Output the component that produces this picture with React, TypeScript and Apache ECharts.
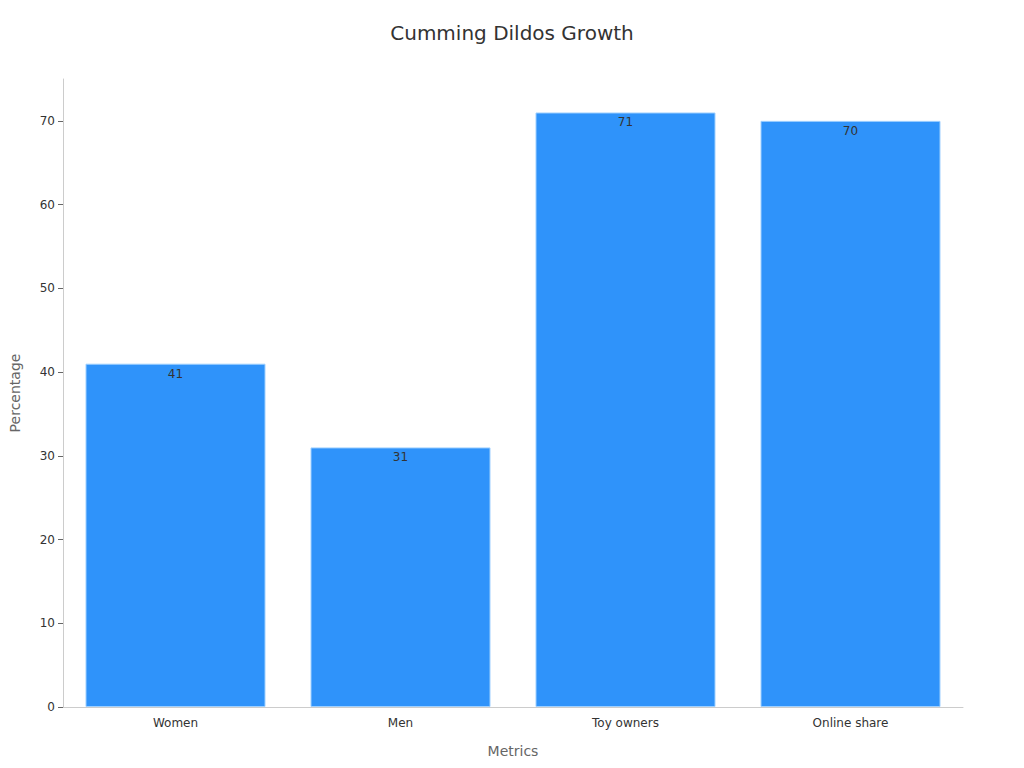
import React, { useEffect, useRef } from "react";
import * as echarts from "echarts";

const categories = ["Women", "Men", "Toy owners", "Online share"];
const values = [41, 31, 71, 70];
const titleText = "Cumming Dildos Growth";
const yName = "Percentage";
const xName = "Metrics";

export default function App() {
  const ref = useRef<HTMLDivElement>(null);
  useEffect(() => {
    if (!ref.current) return;
    const chart = echarts.init(ref.current, null, { renderer: "svg" });
    const font = "'DejaVu Sans', sans-serif";
    chart.setOption({
      animation: false,
      textStyle: { fontFamily: font },
      title: {
        text: titleText,
        left: "center",
        top: 18,
        textStyle: { fontSize: 20, fontWeight: "normal", color: "#333", fontFamily: font },
      },
      grid: { left: 57, right: 61, top: 79, bottom: 61, containLabel: false },
      xAxis: {
        type: "category",
        data: categories,
        name: xName,
        nameLocation: "middle",
        nameGap: 37,
        nameTextStyle: { fontSize: 14, color: "#666", fontFamily: font },
        axisLine: { lineStyle: { color: "#ccc" } },
        axisTick: { alignWithLabel: true, lineStyle: { color: "#999" } },
        axisLabel: { color: "#333", fontSize: 12, margin: 10, fontFamily: font },
      },
      yAxis: {
        type: "value",
        min: 0,
        max: 75,
        interval: 10,
        name: yName,
        nameLocation: "middle",
        nameGap: 41,
        nameTextStyle: { fontSize: 14, color: "#666", fontFamily: font },
        axisLine: { show: true, lineStyle: { color: "#ccc" } },
        axisTick: { show: true, lineStyle: { color: "#666" } },
        axisLabel: { color: "#333", fontSize: 12, fontFamily: font, showMaxLabel: false },
        splitLine: { show: false },
      },
      series: [
        {
          type: "bar",
          data: values,
          barCategoryGap: "20%",
          itemStyle: { color: "#2f93fa", borderColor: "#9fd0ff", borderWidth: 1 },
          label: {
            show: true,
            position: "insideTop",
            distance: 4,
            color: "#333",
            fontSize: 12,
            fontFamily: font,
          },
        },
      ],
    });
    return () => chart.dispose();
  }, []);
  return (
    <div
      ref={ref}
      style={{ position: "absolute", left: 0, top: 0, width: 1024, height: 768 }}
    />
  );
}
